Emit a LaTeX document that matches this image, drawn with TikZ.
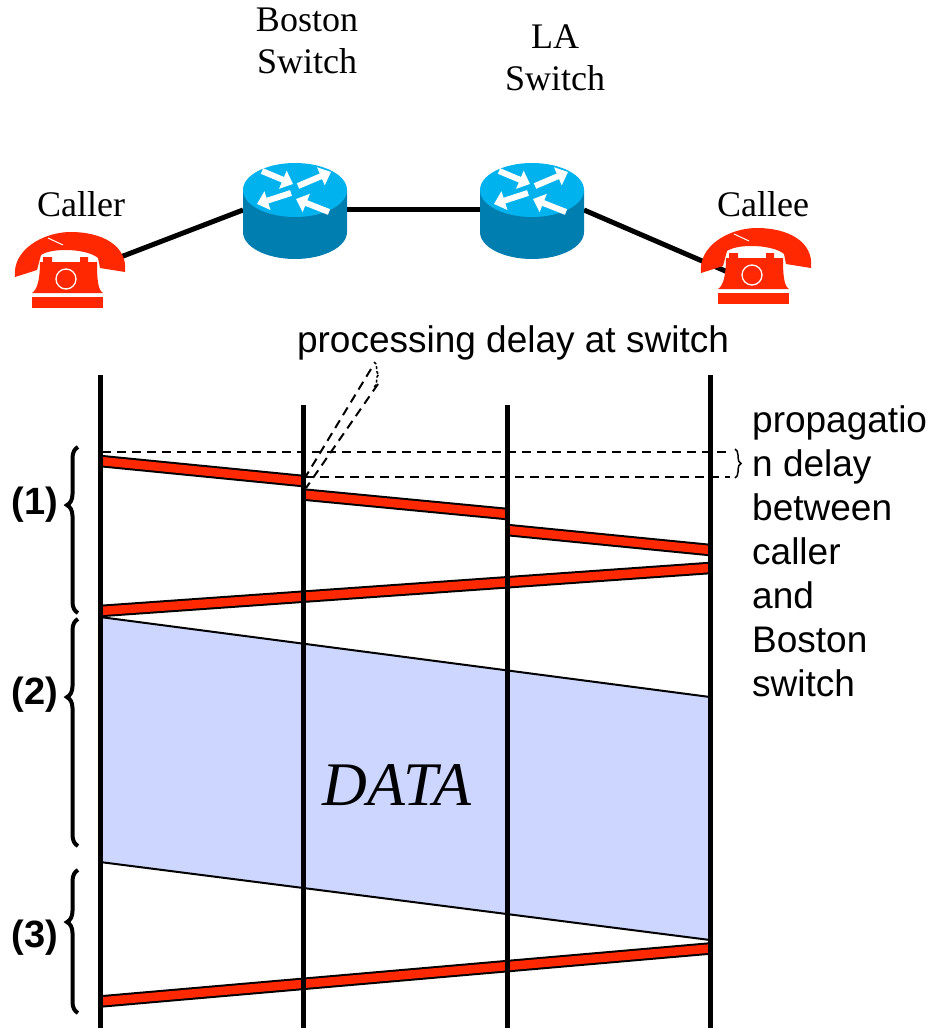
\documentclass[tikz,border=0pt]{standalone}
\usepackage{fontspec}
\setmainfont{Liberation Serif}
\setsansfont{Liberation Sans}
\usetikzlibrary{arrows.meta,decorations.pathreplacing,backgrounds}

\definecolor{sigred}{RGB}{255,40,0}
\definecolor{datablue}{RGB}{204,214,255}
\definecolor{routertop}{RGB}{0,178,238}
\definecolor{routerside}{RGB}{0,126,176}

\tikzset{
	phone/.pic={
		\fill[sigred] (-53,7) .. controls (-56,-20) and (-25,-38) .. (3,-38)
			.. controls (33,-38) and (60,-25) .. (57,2) -- (32,-2) -- (30,-12)
			.. controls (20,-21) and (-15,-23) .. (-27,-15) -- (-31,0) -- cycle;
		\draw[white, line width=1pt] (-20,-32) -- (-5,-25);
		\fill[sigred] (-28,-8) -- (-25,-8) -- (-25,-13) -- (-16,-13) -- (-16,-8)
			-- (12,-8) -- (12,-13) -- (20,-13) -- (20,-8) -- (29,-8)
			.. controls (29,10) and (30,20) .. (35,23) -- (-36,23)
			.. controls (-31,20) and (-28,10) .. (-28,-8) -- cycle;
		\fill[sigred] (-36,27) rectangle (35,38);
		\draw[white, line width=1.3pt] (-2,9) circle[radius=10];
		\coordinate (-out) at (50,-12);
		\coordinate (-in) at (-24,7);
	},
	router/.pic={
		\fill[routerside] (-52,0) -- (-52,42)
			arc[start angle=180, end angle=0, x radius=52, y radius=27] -- (52,0) -- cycle;
		\fill[routertop] (0,0) ellipse[x radius=52, y radius=27];
		\draw[routerarrow] (-33,-19) -- (-2,-6);
		\draw[routerarrow] (3,-4) -- (36,-18);
		\draw[routerarrow] (-4,3) -- (-38,14);
		\draw[routerarrow] (34,22) -- (1,9);
		\coordinate (-w) at (-52,20);
		\coordinate (-e) at (52,20);
	},
	routerarrow/.style={white, line width=6pt, -{Triangle[length=11pt, width=19pt]}},
	link/.style={line width=5pt},
	devlabel/.style={font=\fontsize{36}{42}\selectfont, align=center, inner sep=0pt},
	note/.style={font=\sffamily\fontsize{37}{44}\selectfont, inner sep=0pt},
	phase/.style={font=\sffamily\bfseries\fontsize{38}{44}\selectfont, inner sep=0pt},
	timeline/.style={line width=5pt},
	signal/.style={line width=2pt, double=sigred, double distance=8.5pt},
	guide/.style={line width=2pt, dash pattern=on 9pt off 6pt},
	phasebrace/.style={decorate, line width=4pt, decoration={brace, amplitude=11pt, aspect=#1}}
}

\begin{document}
\begin{tikzpicture}[x=1pt, y=-1pt]
\useasboundingbox (0,0) rectangle (931,1032);

\pic (caller) at (68,270) {phone};
\pic (callee) at (754,266) {phone};
\pic (boston) at (295,190) {router};
\pic (la) at (532,190) {router};

\begin{pgfonlayer}{background}
\draw[link] (caller-out) -- (boston-w);
\draw[link] (boston-e) -- (la-w);
\draw[link] (la-e) -- (callee-in);
\end{pgfonlayer}

\node[devlabel] (bostonlbl) at (307,41) {Boston\\Switch};
\node[devlabel] (lalbl) at (555,58) {LA\\Switch};
\node[devlabel, anchor=base] (callerlbl) at (81,217) {Caller};
\node[devlabel, anchor=base] (calleelbl) at (763,217) {Callee};

% data transfer
\fill[datablue] (100,617) -- (710,697) -- (710,940) -- (100,862) -- cycle;
\draw[line width=2pt] (100,617) -- (710,697);
\draw[line width=2pt] (100,862) -- (710,940);
\node[font=\itshape\fontsize{62}{66}\selectfont] (data) at (397,785) {DATA};

% set-up and tear-down signals
\draw[signal] (100,461) -- (303,481);
\draw[signal] (303,494.5) -- (507,514);
\draw[signal] (507,530) -- (710,550);
\draw[signal] (710,568) -- (100,611);
\draw[signal] (710,948.5) -- (100,1001.5);

\foreach \x/\t in {100/375, 303/405, 507/405, 710/375}
	\draw[timeline] (\x,\t) -- (\x,1028);

\draw[guide] (102,452) -- (730,452);
\draw[guide] (305,477) -- (730,477);
\draw[decorate, line width=1.5pt, decoration={brace, amplitude=6pt}] (735,449) -- (735,478);
\draw[guide] (371,369) -- (303,481);
\draw[guide] (378,384) -- (306,488);
\draw[decorate, line width=1.5pt, dash pattern=on 3pt off 2pt, decoration={brace, amplitude=5pt}] (374,362) -- (374,387);

\node[note, anchor=base] (procdelay) at (513,352) {processing delay at switch};
\node[note, anchor=north west, align=left] (propdelay) at (752,405)
	{propagatio\\n delay\\between\\caller\\and\\Boston\\switch};

\draw[phasebrace=0.65] (78,613) -- (78,447);
\draw[phasebrace=0.656] (78,846) -- (78,619);
\draw[phasebrace=0.636] (78,1013) -- (78,870);
\node[phase] (phase1) at (35,505) {(1)};
\node[phase] (phase2) at (35,695) {(2)};
\node[phase] (phase3) at (35,938) {(3)};
\end{tikzpicture}
\end{document}
